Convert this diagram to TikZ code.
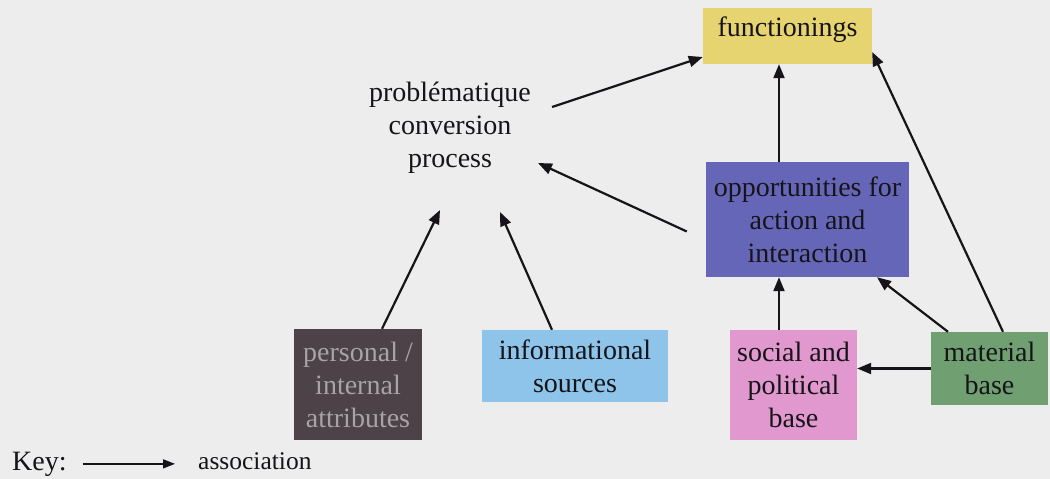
\documentclass[tikz,border=0pt]{standalone}
\usepackage{fontspec}
\setmainfont{Liberation Serif}
\usetikzlibrary{arrows.meta}
\definecolor{paper}{RGB}{237,237,237}
\definecolor{ink}{RGB}{22,20,24}
\definecolor{funfill}{RGB}{230,212,112}
\definecolor{oppfill}{RGB}{102,102,184}
\definecolor{socfill}{RGB}{224,152,206}
\definecolor{matfill}{RGB}{112,160,114}
\definecolor{infofill}{RGB}{142,196,234}
\definecolor{persfill}{RGB}{76,66,72}
\definecolor{perstext}{RGB}{170,162,166}
\tikzset{
  box/.style={rectangle, draw=none, align=center, inner sep=0pt,
    font=\fontsize{28}{33}\selectfont, text=ink},
  arr/.style={-{Triangle[length=14pt,width=11pt]}, line width=2.2pt, draw=ink},
  keyarr/.style={-{Triangle[length=12pt,width=9pt]}, line width=1.4pt, draw=ink},
}
\begin{document}
\begin{tikzpicture}[x=1pt,y=-1pt]
\fill[paper] (0,0) rectangle (1050,479);
\useasboundingbox (0,0) rectangle (1050,479);

% boxes
\node[box, fill=funfill, minimum width=169pt, minimum height=56pt,
      inner ysep=6pt, text height=22pt, text depth=22pt]
      (fun) at (787.5,36) {functionings};
\node[box, fill=oppfill, minimum width=203pt, minimum height=115pt]
      (opp) at (807.5,219.5) {opportunities for\\action and\\interaction};
\node[box, fill=socfill, minimum width=127pt, minimum height=110pt]
      (soc) at (793.5,385) {social and\\political\\base};
\node[box, fill=matfill, minimum width=117pt, minimum height=73pt]
      (mat) at (989.5,368.5) {material\\base};
\node[box, fill=persfill, text=perstext, minimum width=128pt, minimum height=111pt]
      (pers) at (358,384.5) {personal /\\internal\\attributes};
\node[box, fill=infofill, minimum width=186pt, minimum height=72pt]
      (info) at (575,366) {informational\\sources};
\node[box] (proc) at (450,128) {problématique\\conversion\\process};

% associations
\draw[arr] ([xshift=102pt,yshift=21pt]proc.center) -- ([yshift=-21pt]fun.west);
\draw[arr] ([xshift=-28.5pt]opp.north) -- ([xshift=-28.5pt]opp.north |- fun.south);
\draw[arr] ([xshift=13.5pt]mat.north) -- ([yshift=-16pt]fun.east);
\draw[arr] ([xshift=-19pt,yshift=-12pt]opp.west) -- ([xshift=88pt,yshift=-35pt]proc.center);
\draw[arr] ([xshift=24pt]pers.north) -- ([xshift=-10pt,yshift=-82pt]proc.center);
\draw[arr] ([xshift=-23pt]info.north) -- ([xshift=50pt,yshift=-84pt]proc.center);
\draw[arr] ([xshift=-14.5pt]soc.north) -- ([xshift=-14.5pt]soc.north |- opp.south);
\draw[arr] ([xshift=-41.5pt]mat.north) -- ([xshift=69.5pt]opp.south);
\draw[arr] (mat.west) -- (mat.west -| soc.east);

% key
\node[anchor=base west, inner sep=0pt, text=ink, font=\fontsize{28}{33}\selectfont]
      (key) at (12,470) {Key:};
\node[anchor=base west, inner sep=0pt, text=ink, font=\fontsize{25.5}{30}\selectfont]
      (assoc) at (198,469) {association};
\draw[keyarr] ([xshift=16pt]key.east) -- ([xshift=-23pt]key.east -| assoc.west);
\end{tikzpicture}
\end{document}
